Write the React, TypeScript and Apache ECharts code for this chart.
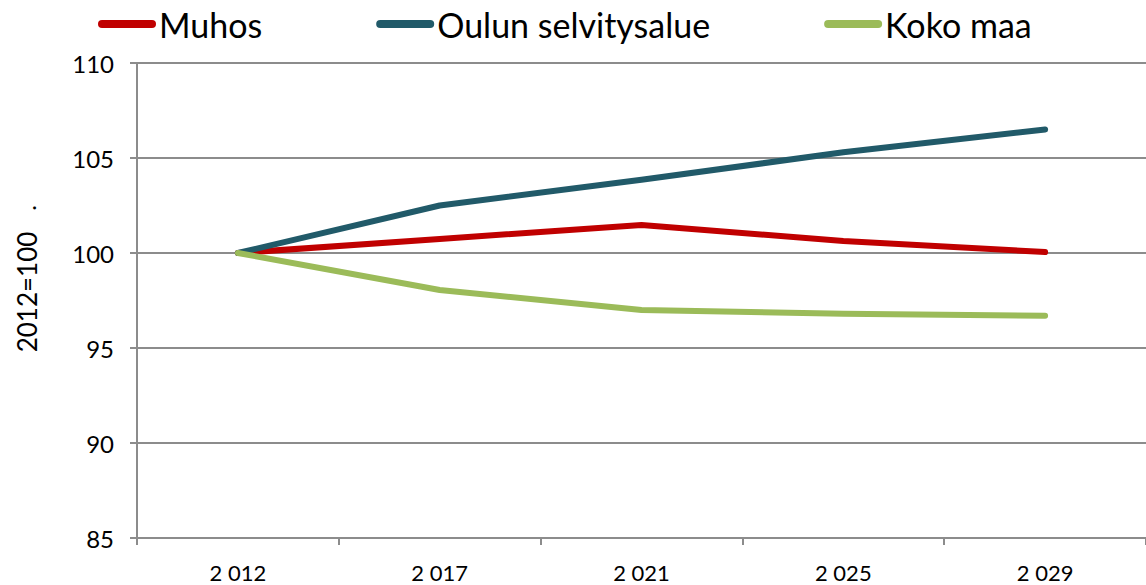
import React, { useEffect, useRef } from "react";
import * as echarts from "echarts";

const categories = ["2 012", "2 017", "2 021", "2 025", "2 029"];
const muhos = [100, 100.74, 101.47, 100.63, 100.05];
const oulu = [100, 102.5, 103.85, 105.3, 106.5];
const kokoMaa = [100, 98.05, 97.0, 96.8, 96.7];
const yTicks = { min: 85, max: 110, interval: 5 };

const FONT = "Lato, 'Open Sans', sans-serif";
const GRAY = "#8c8c8c";
const legendIcon = "path://M4,0 H54 A4,4 0 0 1 54,8 H4 A4,4 0 0 1 4,0 Z";

export default function App() {
  const ref = useRef<HTMLDivElement>(null);
  useEffect(() => {
    const chart = echarts.init(ref.current!, null, { renderer: "svg" });
    const mk = (name: string, data: number[], color: string) => ({
      name,
      type: "line",
      data,
      symbol: "none",
      lineStyle: { width: 6, color, cap: "round", join: "round" },
      itemStyle: { color },
    });
    chart.setOption({
      animation: false,
      textStyle: { fontFamily: FONT },
      legend: {
        left: 93,
        top: 2,
        icon: legendIcon,
        itemWidth: 58,
        itemHeight: 8,
        itemGap: 114,
        textStyle: { fontSize: 34, color: "#000", fontFamily: FONT, padding: [0, 0, 0, -2] },
        data: ["Muhos", "Oulun selvitysalue", "Koko maa"],
      },
      grid: { left: 137, top: 63, width: 1010, height: 475 },
      xAxis: {
        type: "category",
        data: categories,
        boundaryGap: true,
        axisLine: { lineStyle: { color: GRAY, width: 2 } },
        axisTick: { show: true, length: 7, lineStyle: { color: GRAY, width: 2 } },
        axisLabel: { fontSize: 22, color: "#000", margin: 23, fontFamily: FONT },
      },
      yAxis: {
        type: "value",
        min: yTicks.min,
        max: yTicks.max,
        interval: yTicks.interval,
        axisLine: { show: true, lineStyle: { color: GRAY, width: 2 } },
        axisTick: { show: true, length: 7, lineStyle: { color: GRAY, width: 2 } },
        splitLine: { lineStyle: { color: GRAY, width: 2 } },
        axisLabel: { fontSize: 24, color: "#000", margin: 23, fontFamily: FONT },
      },
      graphic: [
        {
          type: "text",
          x: 27,
          y: 292,
          rotation: Math.PI / 2,
          style: {
            text: "2012=100",
            fontSize: 26,
            fontFamily: FONT,
            fill: "#000",
            align: "center",
            verticalAlign: "middle",
          },
        },
        {
          type: "text",
          x: 26,
          y: 208,
          rotation: Math.PI / 2,
          style: {
            text: ".",
            fontSize: 24,
            fontFamily: FONT,
            fill: "#000",
            align: "center",
            verticalAlign: "middle",
          },
        },
      ],
      series: [
        mk("Muhos", muhos, "#c00000"),
        mk("Oulun selvitysalue", oulu, "#215a69"),
        mk("Koko maa", kokoMaa, "#9bbb59"),
      ],
    });
    return () => chart.dispose();
  }, []);
  return <div ref={ref} style={{ width: 1146, height: 585, position: "absolute", left: 0, top: 0 }} />;
}
